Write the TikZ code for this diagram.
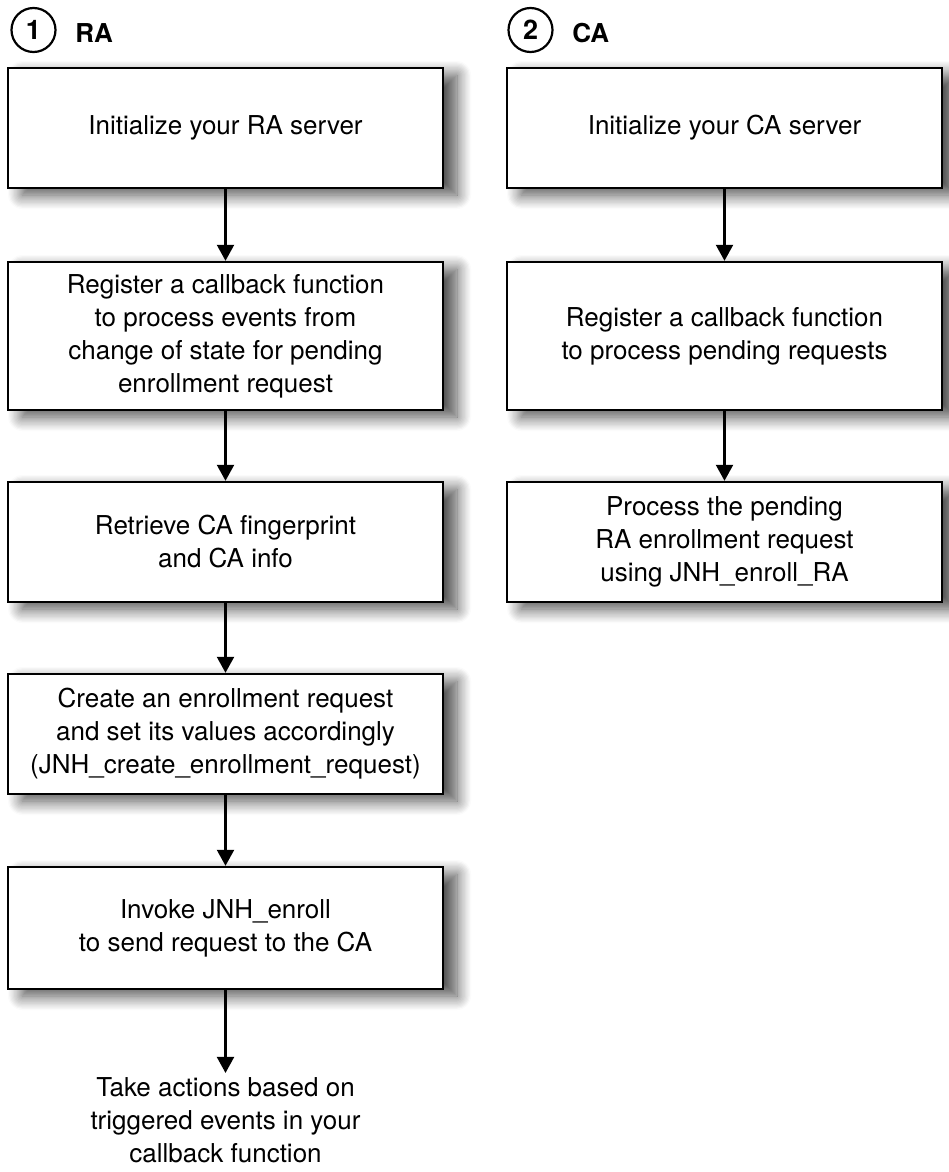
\documentclass[tikz,border=0pt]{standalone}
\usepackage{fontspec}
\setmainfont{TeX Gyre Heros}
\usetikzlibrary{arrows.meta, shadows.blur}

\tikzset{
  stepbox/.style={draw, line width=1.2pt, fill=white, minimum width=217.5pt, minimum height=60pt,
    align=center, font=\fontsize{13}{16.5}\selectfont,
    blur shadow={shadow xshift=7pt, shadow yshift=-3.5pt, shadow blur radius=7pt, shadow opacity=70, shadow blur steps=12}},
  flow/.style={-{Triangle[length=8pt, width=8.5pt]}, line width=1.1pt},
  numcirc/.style={circle, draw, line width=1.1pt, minimum size=22pt, inner sep=0pt, font=\fontsize{13.5}{15}\selectfont\bfseries},
  colhead/.style={anchor=west, inner sep=0pt, font=\fontsize{13}{15}\selectfont\bfseries}
}

\begin{document}
\begin{tikzpicture}[x=0.5pt, y=-0.5pt]
\useasboundingbox (0,0) rectangle (948,1172);

% column headers
\node (n1) at (33.5, 30) [numcirc] {1};
\node (h1) at (75, 33) [colhead] {RA};
\node (n2) at (530.5, 30) [numcirc] {2};
\node (h2) at (572, 33) [colhead] {CA};

% RA side
\node (ra1) at (225.5, 128) [stepbox] {Initialize your RA server};
\node (ra2) at (225.5, 336) [stepbox, minimum height=74pt] {Register a callback function\\ to process events from\\ change of state for pending\\ enrollment request};
\node (ra3) at (225.5, 542) [stepbox] {Retrieve CA fingerprint\\ and CA info};
\node (ra4) at (225.5, 734) [stepbox] {Create an enrollment request\\ and set its values accordingly\\ (JNH\_create\_enrollment\_request)};
\node (ra5) at (225.5, 928) [stepbox, minimum height=61pt] {Invoke JNH\_enroll\\ to send request to the CA};
\node (ra6) at (225.5, 1120) [align=center, inner sep=2pt, font=\fontsize{13}{16.5}\selectfont] {Take actions based on\\ triggered events in your\\ callback function};

% CA side
\node (ca1) at (724.5, 128) [stepbox] {Initialize your CA server};
\node (ca2) at (724.5, 336) [stepbox, minimum height=74pt] {Register a callback function\\ to process pending requests};
\node (ca3) at (724.5, 542) [stepbox] {Process the pending\\ RA enrollment request\\ using JNH\_enroll\_RA};

\draw[flow] (ra1) -- (ra2);
\draw[flow] (ra2) -- (ra3);
\draw[flow] (ra3) -- (ra4);
\draw[flow] (ra4) -- (ra5);
\draw[flow] (ra5) -- (ra6);
\draw[flow] (ca1) -- (ca2);
\draw[flow] (ca2) -- (ca3);
\end{tikzpicture}
\end{document}
